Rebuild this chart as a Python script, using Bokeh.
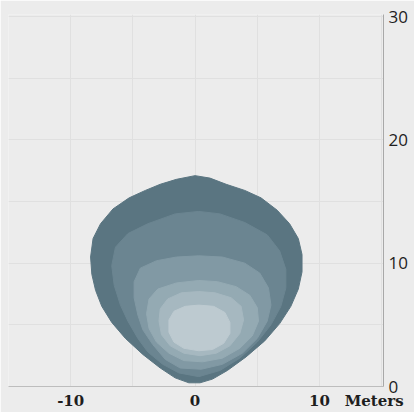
from bokeh.plotting import figure
from bokeh.models import Range1d, FixedTicker
from bokeh.embed import file_html
from bokeh.resources import INLINE

# Axis ticks
x_ticks = [-10, 0, 10]
x_unit_pos = 14.4
x_unit_label = "Meters"
y_ticks = [0, 10, 20, 30]
grid_x = [-15, -10, -5, 0, 5, 10, 15]
grid_y = [0, 5, 10, 15, 20, 25, 30]

# Iso-contours (outermost first), in meters
c1_x = [0.0, 1.2, 2.5, 4.0, 5.3, 6.6, 7.6, 8.3, 8.6, 8.6, 8.3, 7.7, 6.8, 5.6, 4.1, 2.6, 1.4, 0.4,
        -0.5, -1.6, -2.8, -4.2, -5.6, -6.7, -7.5, -8.0, -8.3, -8.4, -8.2, -7.6, -6.6, -5.3, -4.0, -2.8, -1.5]
c1_y = [17.1, 16.9, 16.4, 15.9, 15.3, 14.3, 13.2, 12.0, 10.7, 9.3, 7.9, 6.5, 5.1, 3.7, 2.4, 1.3, 0.6, 0.3,
        0.3, 0.7, 1.5, 2.6, 3.9, 5.2, 6.5, 7.8, 9.1, 10.5, 12.0, 13.2, 14.4, 15.3, 15.9, 16.4, 16.8]

c2_x = [0.3, 2.0, 4.0, 5.8, 6.8, 7.3, 7.3, 6.9, 6.1, 5.0, 3.6, 2.0, 0.3,
        -1.3, -2.6, -3.8, -4.6, -5.4, -6.0, -6.5, -6.7, -6.4, -5.4, -3.8, -1.6]
c2_y = [14.2, 14.0, 13.3, 12.3, 11.0, 9.5, 8.0, 6.5, 5.0, 3.6, 2.3, 1.3, 0.8,
        1.1, 1.8, 2.8, 3.9, 5.3, 6.6, 8.2, 9.8, 11.3, 12.4, 13.2, 14.0]

c3_x = [0.3, 2.2, 4.0, 5.2, 5.9, 6.1, 5.8, 5.0, 3.8, 2.2, 0.5,
        -1.2, -2.4, -3.4, -4.2, -4.6, -4.9, -4.9, -4.4, -3.1, -1.5]
c3_y = [10.6, 10.5, 10.0, 9.2, 8.0, 6.6, 5.3, 3.9, 2.7, 1.8, 1.4,
        1.5, 2.2, 3.4, 4.6, 5.8, 7.2, 8.5, 9.6, 10.2, 10.5]

c4_x = [0.3, 1.8, 3.3, 4.4, 5.0, 5.1, 4.6, 3.6, 2.2, 0.6,
        -0.9, -2.1, -3.1, -3.7, -3.9, -3.7, -3.0, -1.5]
c4_y = [8.6, 8.5, 8.1, 7.4, 6.4, 5.3, 4.1, 3.1, 2.3, 2.0,
        2.1, 2.7, 3.6, 4.7, 5.9, 7.1, 7.9, 8.4]

c5_x = [0.3, 1.6, 2.9, 3.7, 3.9, 3.6, 2.8, 1.7, 0.4,
        -0.9, -2.0, -2.7, -2.9, -2.8, -2.2, -1.1]
c5_y = [7.7, 7.6, 7.2, 6.5, 5.4, 4.3, 3.3, 2.7, 2.5,
        2.7, 3.3, 4.2, 5.3, 6.3, 7.1, 7.6]

c6_x = [0.3, 1.5, 2.4, 2.8, 2.8, 2.3, 1.4, 0.3,
        -0.9, -1.7, -2.1, -2.1, -1.7, -0.8]
c6_y = [6.6, 6.5, 6.0, 5.2, 4.3, 3.5, 3.0, 2.9,
        3.1, 3.6, 4.4, 5.4, 6.1, 6.5]

contour_colors = ["#5a7581", "#6b8591", "#8199a4", "#94aab3", "#a6b8c0", "#bdcad0"]

BG = "#ececec"

p = figure(width=414, height=412,
           x_range=Range1d(-15, 15.15), y_range=Range1d(0, 30.17),
           output_backend="svg", toolbar_location=None,
           y_axis_location="right",
           min_border_left=8, min_border_top=14, min_border_right=31, min_border_bottom=23)

p.background_fill_color = BG
p.border_fill_color = BG
p.outline_line_color = None

p.patches(xs=[c1_x, c2_x, c3_x, c4_x, c5_x, c6_x],
          ys=[c1_y, c2_y, c3_y, c4_y, c5_y, c6_y],
          fill_color=contour_colors, line_color=contour_colors, line_width=1,
          line_join="round")

# grids
p.xgrid.ticker = FixedTicker(ticks=grid_x)
p.ygrid.ticker = FixedTicker(ticks=grid_y)
for g in (p.xgrid, p.ygrid):
    g.grid_line_color = "#e0e0e0"
    g.grid_line_width = 1

# x axis
xa = p.xaxis[0]
xa.ticker = FixedTicker(ticks=x_ticks + [x_unit_pos])
xa.major_label_overrides = {-10: "-10", 0: "0", 10: "10", x_unit_pos: x_unit_label}
xa.axis_line_color = "#bdbdbd"
xa.major_tick_line_color = None
xa.minor_tick_line_color = None
xa.major_tick_out = 0
xa.major_tick_in = 0
xa.major_label_standoff = 5
xa.major_label_text_font = "DejaVu Serif"
xa.major_label_text_font_style = "bold"
xa.major_label_text_font_size = "15px"
xa.major_label_text_color = "#1e1e1e"

# y axis (right)
ya = p.yaxis[0]
ya.ticker = FixedTicker(ticks=y_ticks)
ya.axis_line_color = "#a8a8a8"
ya.major_tick_line_color = None
ya.minor_tick_line_color = None
ya.major_tick_out = 0
ya.major_tick_in = 0
ya.major_label_standoff = 5
ya.major_label_text_font = "Open Sans"
ya.major_label_text_font_size = "17px"
ya.major_label_text_color = "#1e1e1e"

html = file_html(p, INLINE)
html = html.replace("<body>", '<body style="background-color:#ececec;">', 1)
open("out.html", "w").write(html)
